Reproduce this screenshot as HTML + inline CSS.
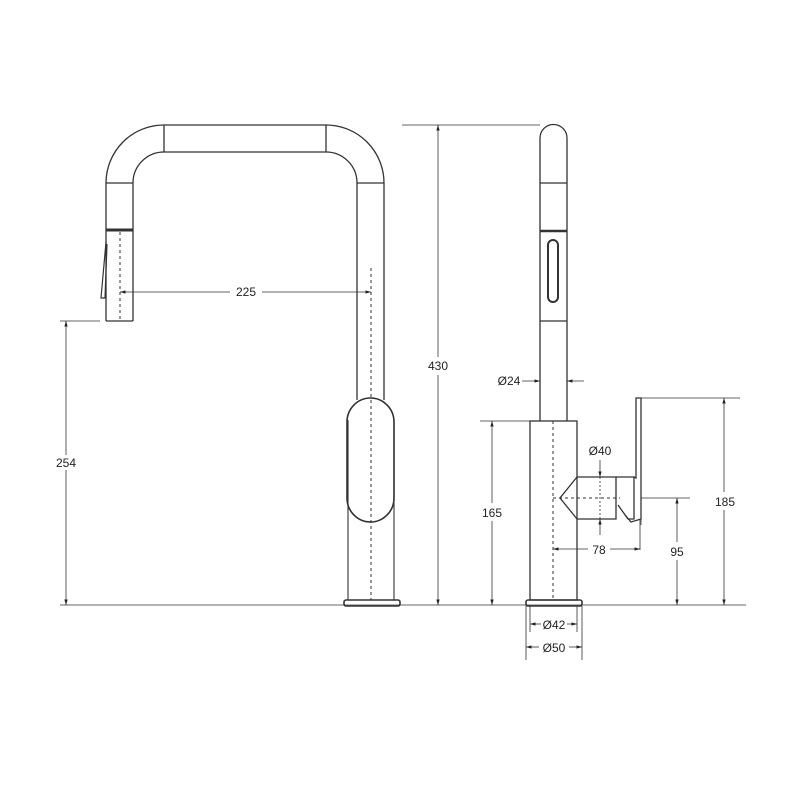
<!DOCTYPE html>
<html><head><meta charset="utf-8"><style>
html,body{margin:0;padding:0;background:#fff}
text{font-family:"Liberation Sans",sans-serif;font-size:12px;fill:#222}
</style></head><body>
<svg width="800" height="800" viewBox="0 0 800 800" xmlns="http://www.w3.org/2000/svg">
<defs>
<marker id="a" viewBox="0 0 10 10" refX="10" refY="5" markerWidth="7" markerHeight="7" orient="auto-start-reverse"><path d="M0,2 L10,5 L0,8 z" fill="#222"/></marker>
</defs>
<g fill="none" stroke="#333" stroke-width="1.3">
<!-- left faucet -->
<path d="M106,321 V183 A58,58 0 0 1 164,125 H326 A58,58 0 0 1 384,183 V400"/>
<path d="M133,321 V183 A31,31 0 0 1 164,152 H326 A31,31 0 0 1 357,183 V400"/>
<path d="M106,321 H133"/>
<path d="M164,125 V152 M326,125 V152 M106,183 H133 M357,183 H384"/>
<path d="M347,422 V498 A23.5,24 0 0 0 394,498 V422 A23.5,24 0 0 0 347,422 Z" stroke-width="1.6"/>
<path d="M348,420 V600 M394,420 V600" stroke-width="1.1"/>
<rect x="344" y="600" width="56" height="6" rx="2" stroke-width="1.6"/>
<path d="M106,230 H133" stroke-width="3"/>
<path d="M106,242 L101,298 L105,298 L107,244" stroke-width="1.2"/>
<!-- right faucet -->
<path d="M540,421 V138 A13.5,13.5 0 0 1 567,138 V421"/>
<path d="M540,183 H567 M540,321 H567"/>
<path d="M540,231 H567" stroke-width="2.5"/>
<rect x="548" y="240" width="10" height="62" rx="5" stroke-width="2"/>
<rect x="530" y="421" width="47" height="179"/>
<rect x="526" y="600" width="56" height="6" rx="2" stroke-width="1.6"/>
<path d="M577,477 L616,477 L616,519 L577,519 L560,498 Z"/>
<path d="M616,477 L634,477 L634,519 L628,519 L618,505"/>
<path d="M634,477 L636,478 V398 H641 V519 L631,522 L625,515"/>
</g>
<g stroke="#333" stroke-width="1" fill="none" stroke-dasharray="3,3">
<path d="M120,232 V321 M371,268 V600 M553,421 V600 M553,498 H620"/>
</g>
<g stroke="#333" stroke-width="0.8" fill="none">
<path d="M60,321 H100 M402,125 H540 M60,605 H746 M575,421 H480 M641,398 H740 M641,498 H690"/>
<path d="M120,292 H230" marker-start="url(#a)"/><path d="M262,292 H371" marker-end="url(#a)"/>
<path d="M66,321 V455" marker-start="url(#a)"/><path d="M66,470 V605" marker-end="url(#a)"/>
<path d="M438,125 V357" marker-start="url(#a)"/><path d="M438,375 V605" marker-end="url(#a)"/>
<path d="M492,421 V503" marker-start="url(#a)"/><path d="M492,521 V605" marker-end="url(#a)"/>
<path d="M724,398 V492" marker-start="url(#a)"/><path d="M724,510 V605" marker-end="url(#a)"/>
<path d="M677,498 V542" marker-start="url(#a)"/><path d="M677,560 V605" marker-end="url(#a)"/>
<path d="M553,549 H588" marker-start="url(#a)"/><path d="M610,549 H640" marker-end="url(#a)"/>
<path d="M640,520 V550 M641,510 V525"/>
<path d="M600,460 V477" marker-end="url(#a)"/><path d="M600,535 V519" marker-end="url(#a)"/><path d="M600,477 V519" stroke-dasharray="2,2"/>
<path d="M522,381 H540" marker-end="url(#a)"/><path d="M584,381 H567" marker-end="url(#a)"/>
<path d="M526,606 V660 M582,606 V660 M530,606 V632 M577,606 V632"/>
<path d="M530,624 H541" marker-start="url(#a)"/><path d="M567,624 H577" marker-end="url(#a)"/>
<path d="M526,647 H539" marker-start="url(#a)"/><path d="M569,647 H582" marker-end="url(#a)"/>
</g>
<g text-anchor="middle">
<text x="246" y="296">225</text>
<text x="66" y="467">254</text>
<text x="438" y="370">430</text>
<text x="492" y="517">165</text>
<text x="725" y="506">185</text>
<text x="677" y="556">95</text>
<text x="599" y="554">78</text>
<text x="600" y="455">Ø40</text>
<text x="509" y="385">Ø24</text>
<text x="554" y="629">Ø42</text>
<text x="554" y="652">Ø50</text>
</g>
</svg>
</body></html>
